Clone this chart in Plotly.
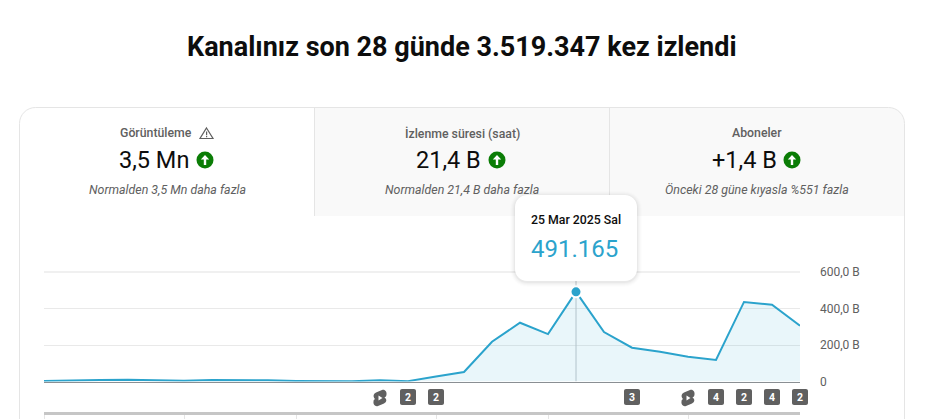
from datetime import date

import plotly.graph_objects as go

W, H = 929, 419

# daily views
dates = [
    "2025-03-06", "2025-03-07", "2025-03-08", "2025-03-09", "2025-03-10", "2025-03-11", "2025-03-12",
    "2025-03-13", "2025-03-14", "2025-03-15", "2025-03-16", "2025-03-17", "2025-03-18", "2025-03-19",
    "2025-03-20", "2025-03-21", "2025-03-22", "2025-03-23", "2025-03-24", "2025-03-25", "2025-03-26",
    "2025-03-27", "2025-03-28", "2025-03-29", "2025-03-30", "2025-03-31", "2025-04-01", "2025-04-02",
]
views = [3000, 7000, 8000, 9000, 7000, 4000, 8000, 9000, 7000, 3000, 2000, 1000, 7000, 2000,
         28000, 52000, 218000, 322000, 260000, 491165, 271000, 185000, 163000, 136000, 118000, 436000,
         421000, 306000]
peak_date = "2025-03-25"
peak_views = 491165

y_ticks = [0, 200000, 400000, 600000]
y_labels = ["0", "200,0 B", "400,0 B", "600,0 B"]
lower_ticks = ["2025-03-06", "2025-03-11", "2025-03-15", "2025-03-20", "2025-03-24", "2025-03-29"]

badge_dates = ["2025-03-19", "2025-03-20", "2025-03-27", "2025-03-30", "2025-03-31", "2025-04-01", "2025-04-02"]
badge_counts = ["2", "2", "3", "4", "2", "4", "2"]
shorts_dates = ["2025-03-18", "2025-03-29"]

tab_titles = ["Görüntüleme", "İzlenme süresi (saat)", "Aboneler"]
tab_values = ["3,5 Mn", "21,4 B", "+1,4 B"]
tab_notes = ["Normalden 3,5 Mn daha fazla", "Normalden 21,4 B daha fazla", "Önceki 28 güne kıyasla %551 fazla"]
title_x = [155.5, 462, 757]
value_x = [154, 448.5, 744]
note_x = [167, 462, 757]
arrow_x = [205, 497, 792]

LINE = "#2ba3cc"
FILL = "rgba(43,163,204,0.1)"
BORDER = "#e5e5e5"
BADGE = "#606060"
PLOT_LEFT, PLOT_RIGHT = 44, 800


def px(x):
    return x / W


def py(y):
    return 1 - y / H


def date_to_paper(d):
    # shapes on the x axis get clipped at the plot edge, and the last badge hangs over it
    first, last = date.fromisoformat(dates[0]), date.fromisoformat(dates[-1])
    share = (date.fromisoformat(d) - first) / (last - first)
    return px(PLOT_LEFT + (PLOT_RIGHT - PLOT_LEFT) * share)


def rounded(x0, y0, x1, y1, r):
    k = r * 0.45
    return (
        f"M{x0 + r},{y0} L{x1 - r},{y0} C{x1 - k},{y0} {x1},{y0 + k} {x1},{y0 + r} "
        f"L{x1},{y1 - r} C{x1},{y1 - k} {x1 - k},{y1} {x1 - r},{y1} "
        f"L{x0 + r},{y1} C{x0 + k},{y1} {x0},{y1 - k} {x0},{y1 - r} "
        f"L{x0},{y0 + r} C{x0},{y0 + k} {x0 + k},{y0} {x0 + r},{y0} Z"
    )


def page_path(points):
    # pixel points from the top left of the page -> paper path
    head = "M" + " L".join(f"{px(x)},{py(y)}" for x, y in points)
    return head + " Z"


def text(x, y, s, size, color, weight=400, style="normal", anchor="center"):
    return dict(
        xref="paper", yref="paper", x=px(x), y=py(y), text=s, showarrow=False, xanchor=anchor, yanchor="middle",
        font=dict(family="Roboto", size=size, color=color, weight=weight, style=style),
    )


def page_rounded(x0, y0, x1, y1, r, **kw):
    k = r * 0.45
    p = lambda a, b: f"{px(a)},{py(b)}"
    path = (
        f"M{p(x0 + r, y0)} L{p(x1 - r, y0)} C{p(x1 - k, y0)} {p(x1, y0 + k)} {p(x1, y0 + r)} "
        f"L{p(x1, y1 - r)} C{p(x1, y1 - k)} {p(x1 - k, y1)} {p(x1 - r, y1)} "
        f"L{p(x0 + r, y1)} C{p(x0 + k, y1)} {p(x0, y1 - k)} {p(x0, y1 - r)} "
        f"L{p(x0, y0 + r)} C{p(x0, y0 + k)} {p(x0 + k, y0)} {p(x0 + r, y0)} Z"
    )
    return dict(type="path", xref="paper", yref="paper", path=path, **kw)


def page_rect(x0, y0, x1, y1, color, layer="below"):
    return dict(type="rect", xref="paper", yref="paper", x0=px(x0), x1=px(x1), y0=py(y1), y1=py(y0),
                fillcolor=color, line_width=0, layer=layer)


shapes = []
annotations = []

# card with the two grey tabs
tab_bg = dict(
    type="path", xref="paper", yref="paper", fillcolor="#f9f9f9", line_width=0, layer="below",
    path=f"M{px(314)},{py(108)} L{px(889)},{py(108)} C{px(898)},{py(108)} {px(904)},{py(114)} {px(904)},{py(123)} "
         f"L{px(904)},{py(216)} L{px(314)},{py(216)} Z",
)
shapes.append(tab_bg)
shapes.append(page_rounded(19.5, 107.5, 904.5, 470, 16, line=dict(color=BORDER, width=1), layer="below"))
shapes.append(page_rect(314, 108, 315, 216, BORDER))
shapes.append(page_rect(609, 108, 610, 216, BORDER))

# green arrows in the tabs
for ax in arrow_x:
    shapes.append(dict(type="circle", xref="paper", yref="paper", x0=px(ax - 8.5), x1=px(ax + 8.5),
                       y0=py(160 + 8.5), y1=py(160 - 8.5), fillcolor="#0b7d06", line_width=0))
    shapes.append(dict(type="path", xref="paper", yref="paper", fillcolor="white", line_width=0,
                       path=page_path([(ax, 155), (ax + 4.2, 159.6), (ax + 1.2, 159.6), (ax + 1.2, 165),
                                       (ax - 1.2, 165), (ax - 1.2, 159.6), (ax - 4.2, 159.6)])))

# warning triangle next to the first tab title
shapes.append(dict(type="path", xref="paper", yref="paper", fillcolor="rgba(0,0,0,0)",
                   line=dict(color="#606060", width=1.2),
                   path=page_path([(206.5, 128), (213, 138.5), (200, 138.5)])))
shapes.append(page_rect(206, 131.5, 207.2, 135.3, "#606060", layer="above"))
shapes.append(page_rect(206, 136, 207.2, 137.2, "#606060", layer="above"))

# paler, thicker top grid line
shapes.append(dict(type="line", xref="x", yref="y", x0=dates[0], x1=dates[-1], y0=600000, y1=600000,
                   line=dict(color="#f0f0f0", width=2), layer="between"))

# crosshair behind the line and the point
shapes.append(dict(type="line", xref="x", yref="y", x0=peak_date, x1=peak_date, y0=0, y1=600000,
                   line=dict(color="#c2c8cc", width=1), layer="between"))

# tooltip with a soft shadow
for grow, alpha in [(5, 0.008), (4, 0.012), (3, 0.016), (2, 0.02), (1, 0.03)]:
    shapes.append(page_rounded(515 - grow, 195 - grow + 1, 637 + grow, 281 + grow + 1, 12 + grow,
                               fillcolor=f"rgba(0,0,0,{alpha})", line_width=0, layer="above"))
shapes.append(page_rounded(515, 195, 637, 281, 12, fillcolor="white", line_width=0, layer="above"))

# number badges below the chart
for d, count in zip(badge_dates, badge_counts):
    shapes.append(dict(type="path", xref="paper", yref="paper", xsizemode="pixel", ysizemode="pixel",
                       xanchor=date_to_paper(d), yanchor=py(397), path=rounded(-8, -8, 8, 8, 2),
                       fillcolor=BADGE, line_width=0))
    annotations.append(dict(xref="paper", yref="paper", x=date_to_paper(d), y=py(397), text=count, showarrow=False,
                            xanchor="center", yanchor="middle",
                            font=dict(family="Roboto", size=10.5, color="white", weight=700)))

# shorts logos below the chart
for d in shorts_dates:
    shapes.append(dict(
        type="path", xref="paper", yref="paper", xsizemode="pixel", ysizemode="pixel",
        xanchor=date_to_paper(d), yanchor=py(398), fillcolor=BADGE, line_width=0,
        path="M-5,-1 C-7,1 -7,4 -4,5.5 L2,8 C5,9 7,6 6.5,3.5 C6.5,2 5.5,1 4.5,0.5 "
             "C7,-1 7,-4 4,-5.5 L-2,-8 C-5,-9 -7,-6 -6.5,-3.5 C-6.5,-2 -6,-1.5 -5,-1 Z",
    ))
    shapes.append(dict(
        type="path", xref="paper", yref="paper", xsizemode="pixel", ysizemode="pixel",
        xanchor=date_to_paper(d), yanchor=py(398), fillcolor="white", line_width=0,
        path="M-1.5,-2.5 L2.5,0 L-1.5,2.5 Z",
    ))

annotations.append(text(462, 47, "Kanalınız son 28 günde 3.519.347 kez izlendi", 27, "#0d0d0d", weight=700))
for i in range(3):
    annotations.append(text(title_x[i], 133, tab_titles[i], 12.3, "#606060", weight=500))
    annotations.append(text(value_x[i], 160, tab_values[i], 23.5, "#0d0d0d"))
    annotations.append(text(note_x[i], 189.5, tab_notes[i], 12.4, "#606060", style="italic"))
annotations.append(text(576, 220, "25 Mar 2025 Sal", 12.3, "#0d0d0d", weight=500))
annotations.append(text(574.5, 249, f"{peak_views:,}".replace(",", "."), 24, LINE))

fig = go.Figure()
fig.add_trace(go.Scatter(
    x=dates, y=views, mode="lines", line=dict(color=LINE, width=2), fill="tozeroy", fillcolor=FILL,
    hoverinfo="skip", showlegend=False, cliponaxis=False,
))
fig.add_trace(go.Scatter(
    x=[peak_date], y=[peak_views], mode="markers", hoverinfo="skip", showlegend=False, cliponaxis=False,
    marker=dict(size=11, color=LINE, line=dict(color="white", width=2)),
))
# lower strip with its own ticks
fig.add_trace(go.Scatter(x=[dates[0], dates[-1]], y=[0, 0], xaxis="x2", yaxis="y2", mode="lines",
                         line=dict(width=0), hoverinfo="skip", showlegend=False))

fig.update_layout(
    width=W, height=H, margin=dict(l=0, r=0, t=0, b=0), paper_bgcolor="white", plot_bgcolor="rgba(0,0,0,0)",
    font=dict(family="Roboto"), shapes=shapes, annotations=annotations, showlegend=False,
    xaxis=dict(
        domain=[px(PLOT_LEFT), px(PLOT_RIGHT)], range=[dates[0], dates[-1]], type="date", showgrid=False,
        showticklabels=False, ticks="", showline=True, linecolor="#8a8f93", linewidth=1, zeroline=False,
        fixedrange=True, automargin=False,
    ),
    yaxis=dict(
        # range runs a little past 600k so the top grid line is not dropped
        domain=[py(381.5), py(271.1)], range=[0, 605000], side="right", tickvals=y_ticks, ticktext=y_labels,
        showgrid=True, gridcolor="#e9e9e9", gridwidth=1, zeroline=False, showline=False, ticks="",
        ticklabelstandoff=19, tickfont=dict(family="Roboto", size=12, color="#606060"), fixedrange=True,
        automargin=False,
    ),
    xaxis2=dict(
        domain=[px(PLOT_LEFT), px(PLOT_RIGHT)], range=[dates[0], dates[-1]], type="date", anchor="y2", showgrid=False,
        tickvals=lower_ticks, showticklabels=False, ticks="outside", ticklen=8, tickcolor="#e5e5e5", tickwidth=1,
        showline=True, linecolor="#c6c6c6", linewidth=3, zeroline=False, fixedrange=True, automargin=False,
    ),
    yaxis2=dict(
        domain=[py(412), py(405)], range=[0, 1], visible=False, fixedrange=True, automargin=False,
    ),
)

fig.write_html("out.html", config=dict(displayModeBar=False),
               post_script="document.body.style.margin='0';document.body.style.overflow='hidden';")
